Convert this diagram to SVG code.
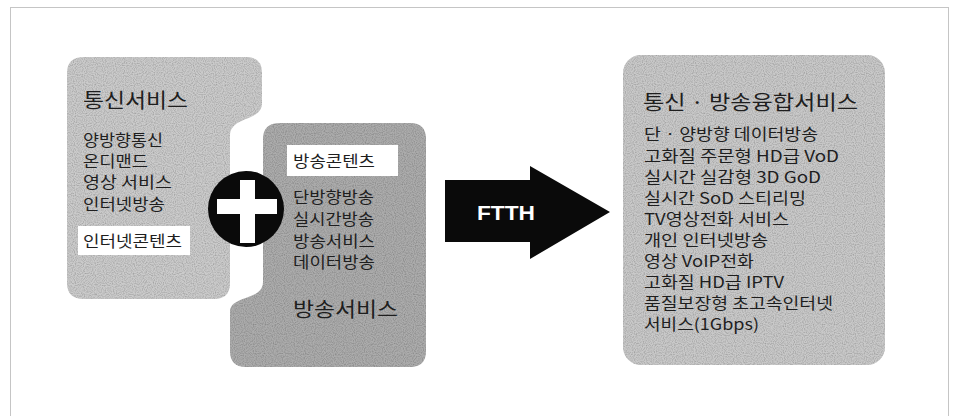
<svg xmlns="http://www.w3.org/2000/svg" width="956" height="416" viewBox="0 0 956 416">
<style>
.t{font-family:"Noto Sans CJK KR","Noto Sans",sans-serif;fill:#1e1e1e}
.h{font-size:20px}
.s{font-size:15.5px}
.lbl{fill:#ffffff}
</style>
<defs>
<filter id="grain" x="0" y="0" width="100%" height="100%">
<feTurbulence type="fractalNoise" baseFrequency="0.9" numOctaves="1" seed="3" result="n"/>
<feColorMatrix in="n" type="matrix" values="0 0 0 0 0  0 0 0 0 0  0 0 0 0 0  0 0 0 0.9 -0.35" result="d"/>
<feComposite in="d" in2="SourceGraphic" operator="in" result="dm"/>
<feMerge><feMergeNode in="SourceGraphic"/><feMergeNode in="dm"/></feMerge>
</filter>
</defs>
<rect width="956" height="416" fill="#ffffff"/>
<rect x="10.5" y="7.5" width="938" height="420" fill="none" stroke="#8a8a8a" stroke-width="1" stroke-dasharray="1 1"/>
<g id="node-telecom">
<path d="M84,57 H246 Q262,57 262,73 V103 C262,122 230,116 230,136 V283 Q230,299 214,299 H84 Q67,299 67,283 V73 Q67,57 84,57 Z" fill="#cbcbcb" filter="url(#grain)"/>
<text class="t h" x="83" y="108" textLength="105" lengthAdjust="spacingAndGlyphs">통신서비스</text>
<text class="t s" x="83" y="146" textLength="80" lengthAdjust="spacingAndGlyphs">양방향통신</text>
<text class="t s" x="83" y="167" textLength="65" lengthAdjust="spacingAndGlyphs">온디맨드</text>
<text class="t s" x="83" y="188" textLength="89" lengthAdjust="spacingAndGlyphs">영상 서비스</text>
<text class="t s" x="83" y="210" textLength="82" lengthAdjust="spacingAndGlyphs">인터넷방송</text>
<rect class="lbl" x="78" y="226" width="112" height="29"/>
<text class="t s" x="83" y="247" textLength="99" lengthAdjust="spacingAndGlyphs">인터넷콘텐츠</text>
</g>
<g id="node-broadcast">
<path d="M280,123 H410 Q426,123 426,139 V351 Q426,367 410,367 H246 Q230,367 230,351 V312 C230,295 263,301 263,282 V139 Q263,123 280,123 Z" fill="#acacac" filter="url(#grain)"/>
<rect class="lbl" x="287" y="145" width="111" height="31"/>
<text class="t s" x="293" y="167" textLength="82" lengthAdjust="spacingAndGlyphs">방송콘텐츠</text>
<text class="t s" x="293" y="203" textLength="81" lengthAdjust="spacingAndGlyphs">단방향방송</text>
<text class="t s" x="293" y="225" textLength="81" lengthAdjust="spacingAndGlyphs">실시간방송</text>
<text class="t s" x="293" y="247" textLength="82" lengthAdjust="spacingAndGlyphs">방송서비스</text>
<text class="t s" x="293" y="268" textLength="82" lengthAdjust="spacingAndGlyphs">데이터방송</text>
<text class="t h" x="293" y="317" textLength="105" lengthAdjust="spacingAndGlyphs">방송서비스</text>
</g>
<g id="plus">
<circle cx="246" cy="209" r="38" fill="#0a0a0a"/>
<rect x="217" y="199" width="60" height="15" fill="#ffffff"/>
<rect x="240" y="180" width="15" height="63" fill="#ffffff"/>
</g>
<g id="connectors">
<polygon points="445,180 530,180 530,166 610,212 530,259 530,242 445,242" fill="#0a0a0a"/>
<text x="477" y="220" font-family="Liberation Sans, Arial, sans-serif" font-size="20" font-weight="bold" fill="#ffffff" textLength="58" lengthAdjust="spacingAndGlyphs">FTTH</text>
</g>
<g id="node-convergence">
<rect x="623" y="55" width="262" height="310" rx="18" fill="#c9c9c9" filter="url(#grain)"/>
<text class="t h" x="643" y="110" textLength="215" lengthAdjust="spacingAndGlyphs">통신 · 방송융합서비스</text>
<text class="t s" x="644" y="140" textLength="174" lengthAdjust="spacingAndGlyphs">단 · 양방향 데이터방송</text>
<text class="t s" x="644" y="162" textLength="195" lengthAdjust="spacingAndGlyphs">고화질 주문형 HD급 VoD</text>
<text class="t s" x="644" y="183" textLength="177" lengthAdjust="spacingAndGlyphs">실시간 실감형 3D GoD</text>
<text class="t s" x="644" y="204" textLength="162" lengthAdjust="spacingAndGlyphs">실시간 SoD 스티리밍</text>
<text class="t s" x="644" y="225" textLength="145" lengthAdjust="spacingAndGlyphs">TV영상전화 서비스</text>
<text class="t s" x="644" y="246" textLength="124" lengthAdjust="spacingAndGlyphs">개인 인터넷방송</text>
<text class="t s" x="644" y="267" textLength="110" lengthAdjust="spacingAndGlyphs">영상 VoIP전화</text>
<text class="t s" x="644" y="288" textLength="140" lengthAdjust="spacingAndGlyphs">고화질 HD급 IPTV</text>
<text class="t s" x="644" y="309" textLength="189" lengthAdjust="spacingAndGlyphs">품질보장형 초고속인터넷</text>
<text class="t s" x="644" y="330" textLength="115" lengthAdjust="spacingAndGlyphs">서비스(1Gbps)</text>
</g>
</svg>
